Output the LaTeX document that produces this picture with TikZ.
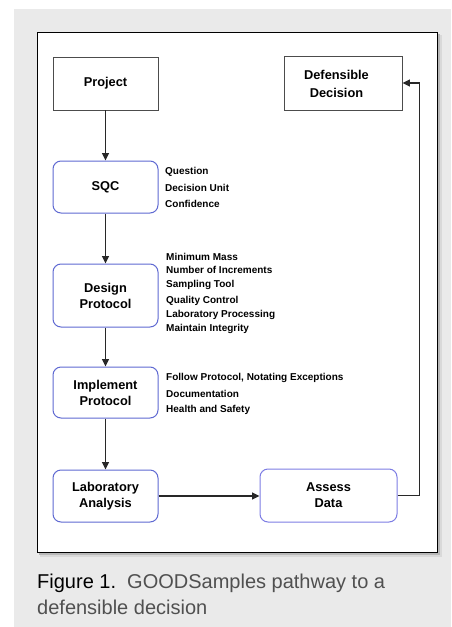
\documentclass[tikz,border=0pt]{standalone}
\usepackage{fontspec}
\setmainfont{Liberation Sans}
\usetikzlibrary{arrows.meta}
\definecolor{bgray}{RGB}{234,234,234}
\definecolor{linec}{RGB}{40,40,40}
\definecolor{boxblue}{RGB}{95,105,210}
\definecolor{boxpurp}{RGB}{125,125,228}
\definecolor{capgray}{RGB}{80,80,80}
\tikzset{
  sqbox/.style={draw=black!70, line width=0.9pt, minimum width=105pt, inner sep=0pt, align=center, font=\fontsize{12.8}{16}\selectfont\bfseries},
  rbox/.style={draw=boxblue, line width=1pt, rounded corners=8pt, minimum width=105pt, inner sep=0pt, align=center, font=\fontsize{12.8}{16}\selectfont\bfseries},
  sidetxt/.style={anchor=west, inner sep=0pt, font=\fontsize{10}{12}\selectfont\bfseries},
  flow/.style={draw=linec, line width=1.5pt, -{Triangle[length=7.5pt,width=7pt]}},
  captxt/.style={anchor=base west, inner sep=0pt, font=\fontsize{20}{24}\selectfont}
}
\begin{document}
\begin{tikzpicture}[x=1pt,y=-1pt]
\useasboundingbox (0,0) rectangle (451,627);
\fill[white] (0,0) rectangle (451,627);
\fill[bgray] (14,9) rectangle (451,627);
% frame shadow
\fill[black!15] (40,35) rectangle (441.5,557);
\fill[black!28] (39,34) rectangle (439.5,554.5);
\draw[black, line width=0.9pt, fill=white] (37,32) rectangle (437,552);

% nodes
\node[sqbox, minimum height=53pt] (proj) at (105.5,83.5) {Project};
\node[sqbox, minimum width=118pt, minimum height=54pt] (dd) at (343,83) {};
\node[inner sep=0pt, align=center, font=\fontsize{12.8}{18}\selectfont\bfseries] (ddtext) at (336.5,84) {Defensible\\Decision};

\node[rbox, minimum height=52pt] (sqc) at (105.5,187) {SQC};
\node[rbox, minimum height=63pt] (design) at (105.5,295.5) {Design\\Protocol};
\node[rbox, minimum height=51pt] (impl) at (105.5,392.5) {Implement\\Protocol};
\node[rbox, minimum height=52pt] (lab) at (105.5,496) {Laboratory\\Analysis};
\node[rbox, draw=boxpurp, minimum width=137pt, minimum height=53pt] (assess) at (328.5,495.5) {Assess\\Data};

% side lists
\node[sidetxt] (q1) at (165,172) {Question};
\node[sidetxt] (q2) at (165,188) {Decision Unit};
\node[sidetxt] (q3) at (165,204) {Confidence};

\node[sidetxt] (d1) at (166,257) {Minimum Mass};
\node[sidetxt] (d2) at (166,270) {Number of Increments};
\node[sidetxt] (d3) at (166,285) {Sampling Tool};
\node[sidetxt] (d4) at (166,301) {Quality Control};
\node[sidetxt] (d5) at (166,315) {Laboratory Processing};
\node[sidetxt] (d6) at (166,329) {Maintain Integrity};

\node[sidetxt] (i1) at (166,378) {Follow Protocol, Notating Exceptions};
\node[sidetxt] (i2) at (166,394) {Documentation};
\node[sidetxt] (i3) at (166,410) {Health and Safety};

% connectors
\draw[flow] (proj) -- (sqc);
\draw[flow] (sqc) -- (design);
\draw[flow] (design) -- (impl);
\draw[flow] (impl) -- (lab);
\draw[flow] (lab.east) -- (assess.west |- lab.east);
\draw[flow] (assess.east) -- ++(22,0) |- (dd.east);

% caption
\node[captxt] (cap1) at (37,588) {Figure 1.\ \ \textcolor{capgray}{GOODSamples pathway to a}};
\node[captxt, text=capgray] (cap2) at (37,614) {defensible decision};
\end{tikzpicture}
\end{document}
